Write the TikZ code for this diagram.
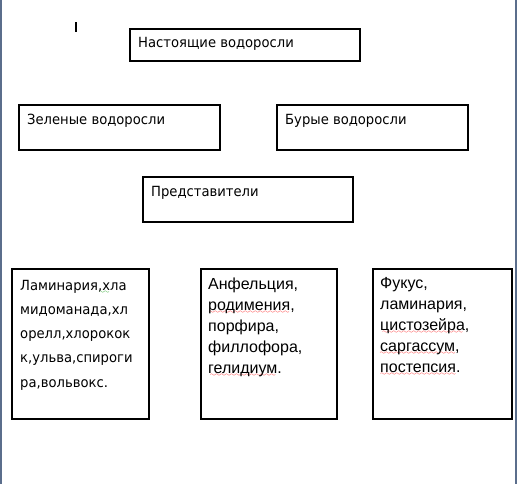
\documentclass[tikz,border=0pt]{standalone}
\usepackage{fontspec}
\setmainfont{DejaVu Sans}
\newfontfamily\tah{DejaVu Sans}[FakeStretch=0.94]
\newfontfamily\ari{Liberation Sans}
\font\wavefont=lasy6
\newcommand\wavy[2]{\leavevmode\setbox0\hbox{#2}\rlap{\lower3pt\hbox to\wd0{\color{#1}\cleaders\hbox{\wavefont\char58}\hfill}}\box0}
\definecolor{pageedge}{HTML}{5B6E8C}
\tikzset{
  box/.style={draw=black, line width=1.2pt, rectangle, inner sep=0pt},
  ttxt/.style={inner sep=0pt, anchor=base west, font=\tah\fontsize{14}{24.3}\selectfont},
  atxt/.style={inner sep=0pt, anchor=base west, font=\ari\fontsize{16}{21}\selectfont},
}
\begin{document}
\begin{tikzpicture}[x=1pt,y=-1pt]
\useasboundingbox (0,0) rectangle (518,484);
\fill[white] (0,0) rectangle (518,484);
% page edges
\draw[pageedge, line width=2pt] (1,0) -- (1,484);
\draw[pageedge, line width=2pt] (516,0) -- (516,484);
% cursor
\fill[black] (75,22) rectangle (77,32);
% boxes
\node[box, minimum width=230pt, minimum height=32pt] (top) at (245,45) {};
\node[box, minimum width=201pt, minimum height=45pt] (green) at (119.5,127.5) {};
\node[box, minimum width=191pt, minimum height=45pt] (brown) at (372.5,127.5) {};
\node[box, minimum width=210pt, minimum height=45pt] (repr) at (248,199.5) {};
\node[box, minimum width=137pt, minimum height=150pt] (bl) at (80.5,344) {};
\node[box, minimum width=136pt, minimum height=150pt] (bm) at (269,344) {};
\node[box, minimum width=139pt, minimum height=150pt] (br) at (442.5,344) {};
% texts
\node[ttxt] (toptext) at (138,48) {Настоящие водоросли};
\node[ttxt] (greentext) at (27,124) {Зеленые водоросли};
\node[ttxt] (browntext) at (285,124) {Бурые водоросли};
\node[ttxt] (reprtext) at (151,196) {Представители};
\node[ttxt, text width=128pt, align=left] (bltext) at (20,290)
  {Ламинария\wavy{green!60!black}{,х}ла\\мидоманада,хл\\орелл,хлорокок\\к,ульва,спироги\\ра,вольвокс.};
\node[atxt, text width=128pt, align=left] (bmtext) at (208,289)
  {Анфельция,\\\wavy{red}{родимения},\\порфира,\\филлофора,\\\wavy{red}{гелидиум}.};
\node[atxt, text width=128pt, align=left] (brtext) at (380,288)
  {Фукус,\\ламинария,\\\wavy{red}{цистозейра},\\\wavy{red}{саргассум},\\\wavy{red}{постепсия}.};
\end{tikzpicture}
\end{document}
